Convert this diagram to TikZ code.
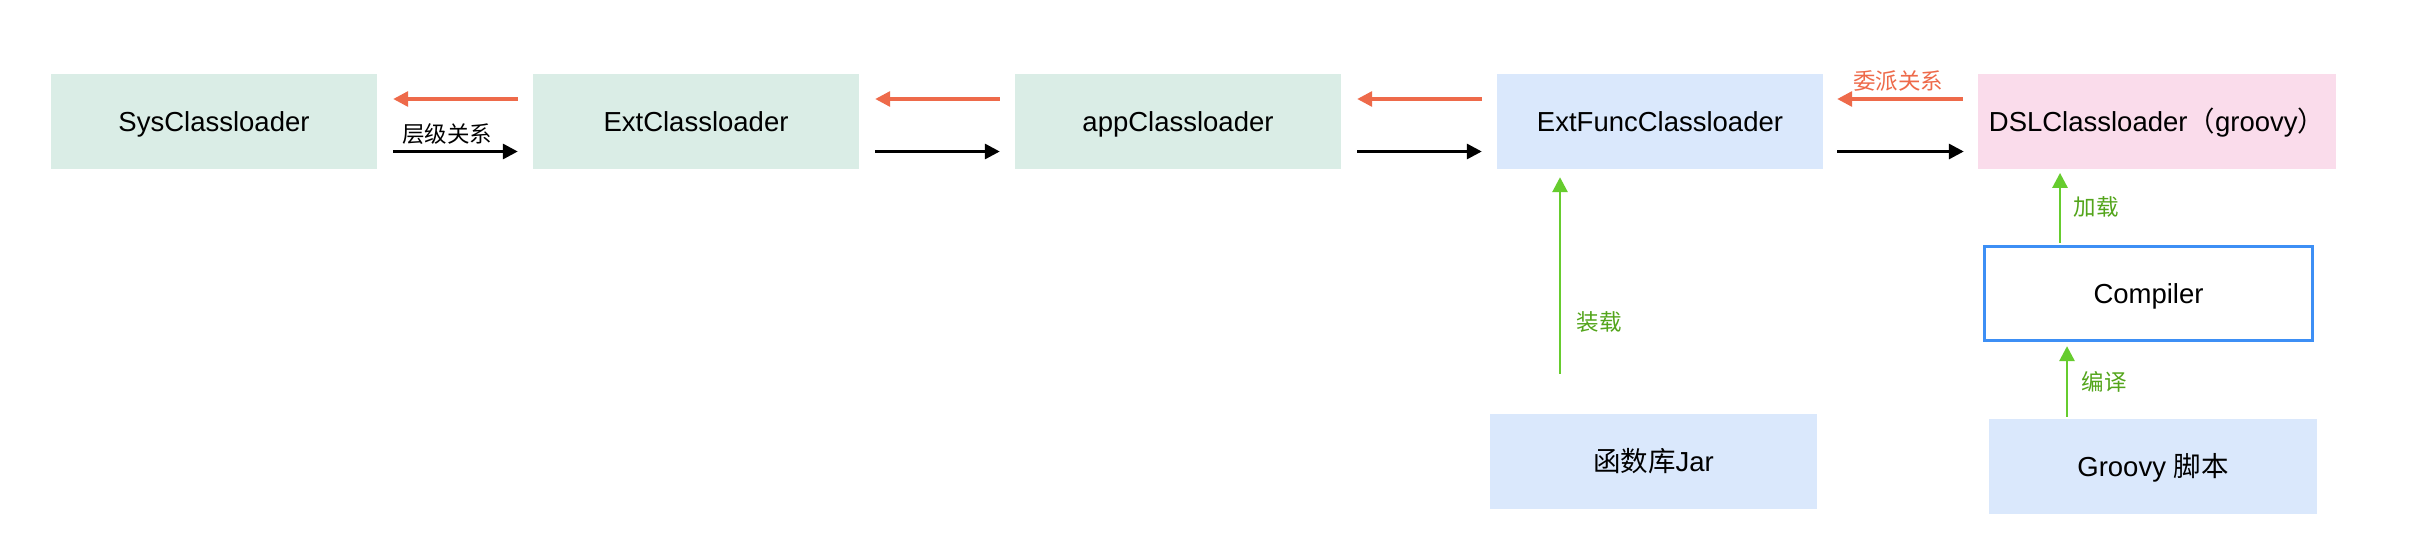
\documentclass[tikz,border=0pt]{standalone}
\usepackage{fontspec}
\setmainfont{Liberation Sans}
\newfontfamily\cjk{Noto Sans CJK SC}
\usetikzlibrary{arrows.meta}
\definecolor{fillgreen}{HTML}{DAEDE6}
\definecolor{fillblue}{HTML}{DAE8FC}
\definecolor{fillpink}{HTML}{FADCEB}
\definecolor{arrred}{HTML}{EE6A4A}
\definecolor{arrgreen}{HTML}{66CC2E}
\definecolor{txtgreen}{HTML}{53A51B}
\definecolor{bordblue}{HTML}{3D8FF5}
\tikzset{
  box/.style={rectangle, draw=none, minimum width=326pt, minimum height=95pt, inner sep=0pt,
    text height=19.7pt, text depth=0pt,
    font=\fontsize{27.5}{33}\selectfont},
  gbox/.style={box, fill=fillgreen},
  bbox/.style={box, fill=fillblue},
  pbox/.style={box, fill=fillpink, minimum width=358pt},
  cbox/.style={box, draw=bordblue, line width=3.3pt, fill=white, minimum width=328pt, minimum height=94pt},
  redarr/.style={draw=arrred, line width=3.2pt, -{Triangle[length=15pt,width=15pt]}, arrred},
  blkarr/.style={draw=black, line width=3.2pt, -{Triangle[length=15pt,width=15pt]}},
  grnarr/.style={draw=arrgreen, line width=2.8pt, -{Triangle[length=15pt,width=15pt]}, arrgreen},
  lbl/.style={inner sep=0pt, font=\cjk\fontsize{22.5}{26}\selectfont},
}
\begin{document}
\begin{tikzpicture}[x=1pt,y=-1pt]
\useasboundingbox[fill=white] (0,0) rectangle (2422,554);
\node[gbox] (sys) at (214,121.5) {SysClassloader};
\node[gbox] (ext) at (696,121.5) {ExtClassloader};
\node[gbox] (app) at (1178,121.5) {appClassloader};
\node[bbox] (func) at (1660,121.5) {ExtFuncClassloader};
\node[pbox] (dsl) at (2157,121.5) {DSLClassloader{\cjk （}groovy{\cjk ）}};
\node[bbox, minimum width=327pt] (jar) at (1653.5,461.5) {{\cjk 函数库}Jar};
\node[cbox] (comp) at (2148.5,293.5) {Compiler};
\node[bbox, minimum width=328pt] (groovy) at (2153,466.5) {Groovy {\cjk 脚本}};

% red delegation arrows (right to left)
\draw[redarr] ([shift={(-15,-22.5)}]ext.west) -- ([shift={(16,-22.5)}]sys.east);
\draw[redarr] ([shift={(-15,-22.5)}]app.west) -- ([shift={(16,-22.5)}]ext.east);
\draw[redarr] ([shift={(-15,-22.5)}]func.west) -- ([shift={(16,-22.5)}]app.east);
\draw[redarr] ([shift={(-15,-22.5)}]dsl.west) -- ([shift={(14,-22.5)}]func.east);

% black hierarchy arrows (left to right)
\draw[blkarr] ([shift={(16,30)}]sys.east) -- ([shift={(-15,30)}]ext.west);
\draw[blkarr] ([shift={(16,30)}]ext.east) -- ([shift={(-15,30)}]app.west);
\draw[blkarr] ([shift={(16,30)}]app.east) -- ([shift={(-15,30)}]func.west);
\draw[blkarr] ([shift={(14,30)}]func.east) -- ([shift={(-14,30)}]dsl.west);

\node[lbl] (l1) at (447,134) {层级关系};
\node[lbl, text=arrred] (l2) at (1898,80.7) {委派关系};

% green arrows
\draw[grnarr] ([shift={(-93.5,-40)}]jar.north) -- ([shift={(-100,8)}]func.south);
\draw[grnarr] ([shift={(-88.5,-2)}]comp.north) -- ([shift={(-97,3.7)}]dsl.south);
\draw[grnarr] ([shift={(-86,-2.3)}]groovy.north) -- ([shift={(-81.5,4)}]comp.south);

\node[lbl, text=txtgreen] (l3) at (1599,322) {装载};
\node[lbl, text=txtgreen] (l4) at (2096,207) {加载};
\node[lbl, text=txtgreen] (l5) at (2104,381.7) {编译};
\end{tikzpicture}
\end{document}
